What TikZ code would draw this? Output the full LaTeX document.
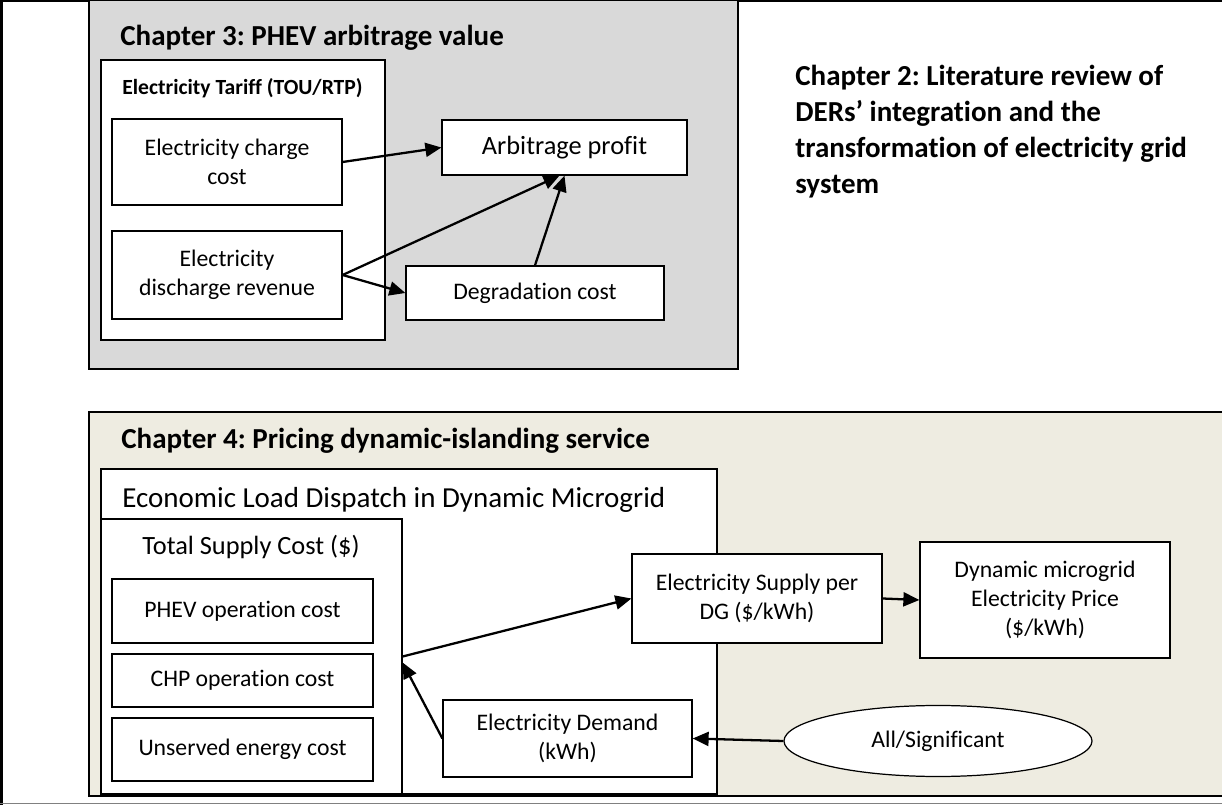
\documentclass[tikz,border=0pt]{standalone}
\usepackage{fontspec}
\setmainfont{Carlito}[Ligatures=NoCommon]
\usetikzlibrary{arrows.meta,positioning,calc,shapes.geometric}
\definecolor{chapgray}{HTML}{D9D9D9}
\definecolor{chaptan}{HTML}{EEECE1}
\newcommand{\boxsize}{\fontsize{13.5}{16.5}\selectfont}
\frenchspacing

\begin{document}
\begin{tikzpicture}[>={Triangle[length=0.32cm,width=0.28cm]},
  box/.style={draw,fill=white,line width=0.7pt,inner sep=0pt,align=center,font=\boxsize},
  panel/.style={draw,line width=0.9pt,inner sep=0pt},
  heading/.style={font=\fontsize{16.5}{20.4}\selectfont\bfseries,inner sep=0pt,anchor=base west},
  link/.style={->,line width=1.3pt}]
  \useasboundingbox (0,0) rectangle (24.44,16.10);
  % page edges
  \draw[line width=1.7pt] (0.03,0) -- (0.03,16.10);
  \draw[line width=1pt] (0,16.08) -- (24.44,16.08);
  \draw[line width=1pt,gray] (0,0.03) -- (24.44,0.03);

  % chapter 3
  \node[panel,fill=chapgray,minimum width=12.98cm,minimum height=7.38cm] (ch3) at (8.27,12.41) {};
  \node[heading] (ch3title) at (2.40,15.19) {Chapter 3: PHEV arbitrage value};
  \node[box,minimum width=5.68cm,minimum height=5.60cm] (tariff) at (4.86,12.10) {};
  \node[anchor=base west,inner sep=0pt,font=\fontsize{12.3}{15}\selectfont\bfseries] (tarifflabel) at (2.44,14.20) {Electricity Tariff (TOU/RTP)};
  \node[box,minimum width=4.60cm,minimum height=1.72cm] (charge) at (4.54,12.86) {Electricity charge\\cost};
  \node[box,minimum width=4.60cm,minimum height=1.76cm] (discharge) at (4.54,10.60) {Electricity\\discharge revenue};
  \node[box,minimum width=4.90cm,minimum height=1.10cm,font=\fontsize{15}{18}\selectfont] (arb) at (11.29,13.15) {Arbitrage profit};
  \node[box,minimum width=5.16cm,minimum height=1.08cm] (degr) at (10.70,10.24) {Degradation cost};
  \draw[link] (charge.east) -- (arb.west);
  \draw[link] (discharge.east) -- ([xshift=-0.1cm]arb.south);
  \draw[link] (discharge.east) -- (degr.west);
  \draw[link] (degr.north) -- (arb.south);

  % chapter 2
  \node[heading,anchor=north west,align=left] (ch2) at (15.90,14.80)
    {Chapter 2: Literature review of\\DERs’ integration and the\\transformation of electricity grid\\system};

  % chapter 4, open to the right
  \node[panel,fill=chaptan,minimum width=23.30cm,minimum height=7.68cm] (ch4) at (13.43,4.02) {};
  \node[heading] (ch4title) at (2.42,7.12) {Chapter 4: Pricing dynamic-islanding service};
  \node[box,minimum width=12.32cm,minimum height=6.50cm] (eld) at (8.18,3.47) {};
  \node[anchor=base west,inner sep=0pt,font=\fontsize{16.5}{20}\selectfont] (eldlabel) at (2.44,5.94) {Economic Load Dispatch in Dynamic Microgrid};
  \node[box,minimum width=6.02cm,minimum height=5.50cm] (tsc) at (5.03,2.97) {};
  \node[anchor=base,inner sep=0pt,font=\fontsize{15}{18}\selectfont] (tsclabel) at (5.02,5.00) {Total Supply Cost (\$)};
  \node[box,minimum width=5.22cm,minimum height=1.28cm] (phev) at (4.85,3.88) {PHEV operation cost};
  \node[box,minimum width=5.22cm,minimum height=1.06cm] (chp) at (4.85,2.49) {CHP operation cost};
  \node[box,minimum width=5.22cm,minimum height=1.26cm] (unserved) at (4.85,1.11) {Unserved energy cost};
  \node[box,minimum width=4.98cm,minimum height=1.54cm] (demand) at (11.35,1.33) {Electricity Demand\\(kWh)};
  \node[box,minimum width=5.00cm,minimum height=1.78cm] (supply) at (15.14,4.13) {Electricity Supply per\\DG (\$/kWh)};
  \node[box,minimum width=5.00cm,minimum height=2.32cm] (price) at (20.90,4.10) {Dynamic microgrid\\Electricity Price\\(\$/kWh)};
  \node[box,ellipse,minimum width=6.16cm,minimum height=1.42cm] (all) at (18.76,1.28) {All/Significant};
  \draw[link] (tsc.east) -- (supply.west);
  \draw[link] (demand.west) -- ([yshift=-0.12cm]tsc.east);
  \draw[link] (supply.east) -- (price.west);
  \draw[link] (all.west) -- (demand.east);
\end{tikzpicture}
\end{document}
